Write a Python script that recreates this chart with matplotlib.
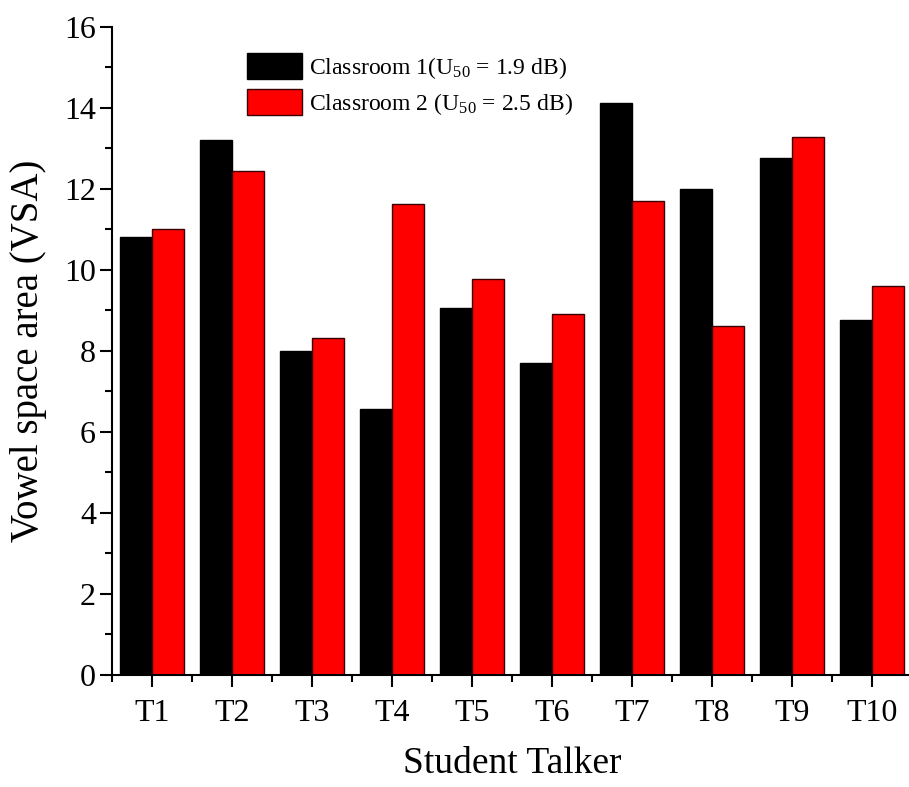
import matplotlib
matplotlib.use("Agg")
import matplotlib.pyplot as plt
import numpy as np
from matplotlib.ticker import MultipleLocator, FixedLocator

talkers = ["T1", "T2", "T3", "T4", "T5", "T6", "T7", "T8", "T9", "T10"]
classroom1 = [10.8, 13.2, 8.0, 6.56, 9.07, 7.70, 14.12, 12.0, 12.76, 8.77]
classroom2 = [11.0, 12.45, 8.32, 11.63, 9.78, 8.91, 11.70, 8.61, 13.28, 9.61]
label1 = "Classroom 1(U$_{50}$ = 1.9 dB)"
label2 = "Classroom 2 (U$_{50}$ = 2.5 dB)"

plt.rcParams['font.family'] = ['Liberation Serif', 'DejaVu Serif']
plt.rcParams['mathtext.fontset'] = 'custom'
plt.rcParams['mathtext.rm'] = 'Liberation Serif'
plt.rcParams['mathtext.it'] = 'Liberation Serif:italic'

fig = plt.figure(figsize=(9.09, 7.87), dpi=100)
ax = fig.add_axes([0.1232, 0.1423, 0.88, 0.8237])

x = np.arange(len(talkers))
w = 0.4
ax.bar(x - w / 2, classroom1, width=w, color="black", edgecolor="black", linewidth=1.0, label=label1)
ax.bar(x + w / 2, classroom2, width=w, color="#ff0000", edgecolor="#3a0000", linewidth=1.0, label=label2)

ax.set_xlim(-0.5, len(talkers) - 0.5)
ax.set_ylim(0, 16)
ax.set_xticks(x)
ax.set_xticklabels(talkers, fontsize=23)
ax.xaxis.set_minor_locator(FixedLocator(np.arange(-0.5, len(talkers), 1.0)))
ax.yaxis.set_major_locator(MultipleLocator(2))
ax.yaxis.set_minor_locator(MultipleLocator(1))
ax.tick_params(axis='y', labelsize=23, pad=3)
ax.tick_params(axis='x', pad=9)
ax.tick_params(which='major', direction='out', length=8.5, width=1.5)
ax.tick_params(which='minor', direction='out', length=5, width=1.5)

for s in ['top', 'right']:
    ax.spines[s].set_visible(False)
for s in ['left', 'bottom']:
    ax.spines[s].set_linewidth(1.5)

ax.set_ylabel("Vowel space area (VSA)", fontsize=28, labelpad=12)
ax.set_xlabel("Student Talker", fontsize=27, labelpad=13)

ax.legend(loc='upper left', bbox_to_anchor=(0.169, 0.959), frameon=False, fontsize=17,
          handlelength=2.33, handleheight=1.3, handletextpad=0.3, labelspacing=0.35,
          borderpad=0, borderaxespad=0)

fig.savefig("out.png", dpi=100)
